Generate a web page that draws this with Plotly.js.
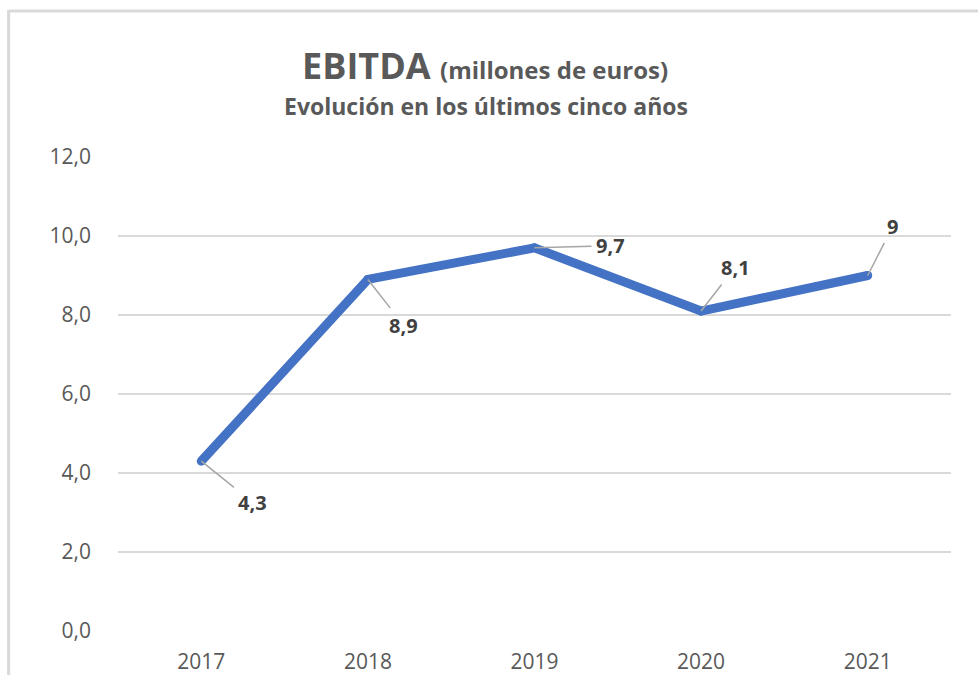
<!DOCTYPE html>
<html>
<head>
<meta charset="utf-8">
<script src="https://cdn.plot.ly/plotly-3.0.1.min.js"></script>
<style>
  html, body { margin: 0; padding: 0; background: #fff; }
  #chart { width: 978px; height: 675px; }
</style>
</head>
<body>
<div id="chart"></div>
<script>
const years = ['2017', '2018', '2019', '2020', '2021'];
const ebitda = [4.3, 8.9, 9.7, 8.1, 9];
const labelTexts = ['4,3', '8,9', '9,7', '8,1', '9'];
const yTicks = [0, 2, 4, 6, 8, 10, 12];

const labelOffsets = [[51, 41], [36, 46], [76, -2], [34, -44], [25, -49]];

const grey = '#595959';
const annotations = years.map((yr, i) => ({
  x: i, y: ebitda[i], xref: 'x', yref: 'y',
  text: '<b>' + labelTexts[i] + '</b>',
  showarrow: true, arrowhead: 0, arrowwidth: 1.5, arrowcolor: '#a6a6a6',
  ax: labelOffsets[i][0], ay: labelOffsets[i][1],
  standoff: 0, startstandoff: 3,
  font: { family: 'Open Sans, sans-serif', size: 20, color: '#404040' }
}));

annotations.push({
  xref: 'paper', yref: 'paper', x: 0.442, y: 1.108, xanchor: 'center', yanchor: 'middle',
  showarrow: false,
  text: '<b>Evolución en los últimos cinco años</b>',
  font: { family: 'Open Sans, sans-serif', size: 23, color: grey }
});

const data = [{
  type: 'scatter', mode: 'lines+markers',
  x: years, y: ebitda,
  line: { color: '#4472C4', width: 9 },
  marker: { color: '#4472C4', size: 9 },
  hoverinfo: 'x+y'
}];

const layout = {
  width: 978, height: 675,
  margin: { l: 118, r: 27, t: 157, b: 44 },
  paper_bgcolor: '#fff', plot_bgcolor: '#fff',
  separators: ',.',
  showlegend: false,
  title: {
    text: '<b>EBITDA</b> <b><span style="font-size:24px">(millones de euros)</span></b>',
    font: { family: 'Open Sans, sans-serif', size: 36, color: grey },
    xref: 'container', x: 0.496, xanchor: 'center',
    yref: 'container', y: 0.902, yanchor: 'middle'
  },
  xaxis: {
    type: 'category', range: [-0.5, 4.5],
    showgrid: false, zeroline: false, showline: false, ticks: '',
    ticklabelstandoff: 16,
    tickfont: { family: 'Open Sans, sans-serif', size: 21, color: grey }
  },
  yaxis: {
    range: [0, 12], tickvals: yTicks, tickformat: '.1f',
    showgrid: true, gridcolor: '#d9d9d9', gridwidth: 2,
    zeroline: false, showline: false, ticks: '',
    ticklabelstandoff: 26,
    tickfont: { family: 'Open Sans, sans-serif', size: 21, color: grey }
  },
  annotations: annotations,
  shapes: [
    { type: 'line', xref: 'paper', yref: 'paper', x0: -0.1313, x1: -0.1313, y0: 1.31, y1: -0.1,
      line: { color: '#d9d9d9', width: 3 } },
    { type: 'line', xref: 'paper', yref: 'paper', x0: -0.1313, x1: 1.05, y0: 1.308, y1: 1.308,
      line: { color: '#d9d9d9', width: 3 } }
  ]
};

Plotly.newPlot('chart', data, layout, { displayModeBar: false, responsive: false });
</script>
</body>
</html>
